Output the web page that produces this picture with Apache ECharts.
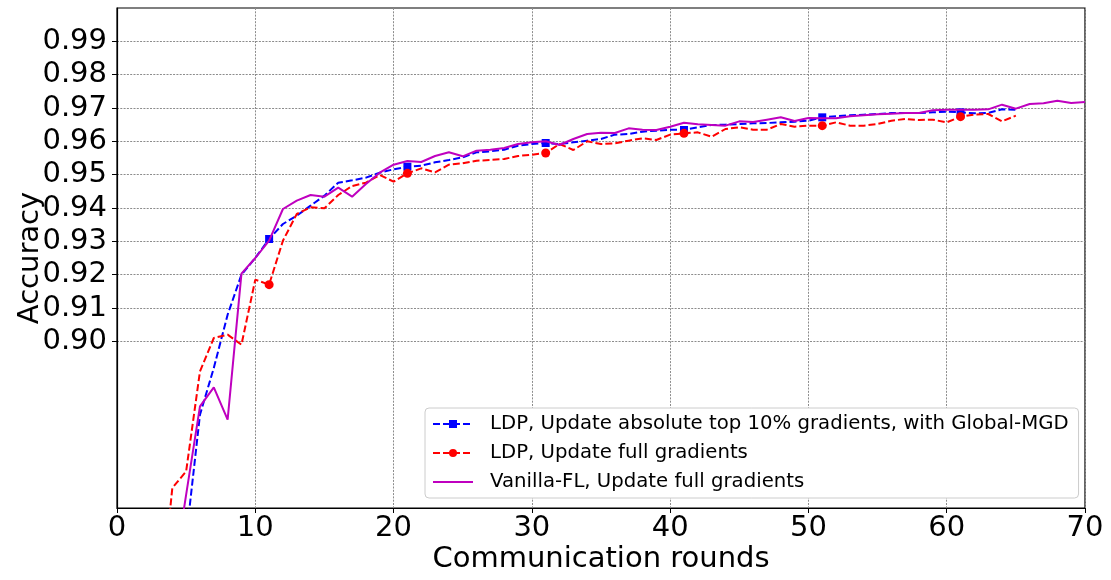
<!DOCTYPE html>
<html>
<head>
<meta charset="utf-8">
<script src="https://cdn.jsdelivr.net/npm/echarts@6/dist/echarts.min.js"></script>
<style>
  html, body { margin: 0; padding: 0; background: #fff; }
  #chart { width: 1111px; height: 580px; }
</style>
</head>
<body>
<div id="chart"></div>
<script>
// Test accuracy per communication round
const xTicks = [0, 10, 20, 30, 40, 50, 60, 70];
const yTicks = [0.90, 0.91, 0.92, 0.93, 0.94, 0.95, 0.96, 0.97, 0.98, 0.99];

const seriesNames = [
  'LDP, Update absolute top 10% gradients, with Global-MGD',
  'LDP, Update full gradients',
  'Vanilla-FL, Update full gradients'
];

// LDP + top-10% + Global-MGD, rounds 4..65
const topkFirstRound = 4;
const topkAcc = [
  0.800, 0.841, 0.878, 0.892, 0.908, 0.920, 0.925, 0.9307, 0.9352, 0.9377,
  0.9407, 0.9437, 0.9476, 0.9483, 0.9491, 0.9506, 0.9516, 0.9524, 0.9527, 0.9537,
  0.9544, 0.9552, 0.9567, 0.9570, 0.9575, 0.9587, 0.9592, 0.9595, 0.9592, 0.9597,
  0.9602, 0.9607, 0.9620, 0.9622, 0.9629, 0.9632, 0.9635, 0.9634, 0.9642, 0.9649,
  0.9650, 0.9652, 0.9654, 0.9655, 0.9657, 0.9659, 0.9662, 0.9672, 0.9675, 0.9678,
  0.9680, 0.9682, 0.9685, 0.9685, 0.9685, 0.9687, 0.9689, 0.9687, 0.9684, 0.9685,
  0.9696, 0.9695
];

// LDP, full gradients, rounds 3..65
const fullFirstRound = 3;
const fullAcc = [
  0.815, 0.856, 0.861, 0.891, 0.901, 0.902, 0.899, 0.9185, 0.9170, 0.9302,
  0.9382, 0.9402, 0.9399, 0.9439, 0.9466, 0.9476, 0.9499, 0.9479, 0.9504, 0.9519,
  0.9507, 0.9530, 0.9534, 0.9542, 0.9544, 0.9547, 0.9556, 0.9560, 0.9565, 0.9592,
  0.9574, 0.9600, 0.9592, 0.9594, 0.9602, 0.9609, 0.9604, 0.9620, 0.9624, 0.9627,
  0.9614, 0.9637, 0.9642, 0.9635, 0.9635, 0.9652, 0.9644, 0.9647, 0.9647, 0.9657,
  0.9647, 0.9647, 0.9652, 0.9662, 0.9667, 0.9664, 0.9665, 0.9657, 0.9674, 0.9680,
  0.9682, 0.9660, 0.9677
];

// Vanilla FL, rounds 4..70
const vanillaFirstRound = 4;
const vanillaAcc = [
  0.827, 0.854, 0.8805, 0.8862, 0.8765, 0.9203, 0.9250, 0.9302, 0.9397, 0.9422,
  0.9439, 0.9434, 0.9461, 0.9434, 0.9472, 0.9506, 0.9530, 0.9541, 0.9538, 0.9556,
  0.9567, 0.9555, 0.9572, 0.9575, 0.9580, 0.9592, 0.9597, 0.9600, 0.9589, 0.9607,
  0.9622, 0.9626, 0.9625, 0.9639, 0.9635, 0.9634, 0.9644, 0.9656, 0.9651, 0.9649,
  0.9647, 0.9660, 0.9658, 0.9665, 0.9672, 0.9661, 0.9670, 0.9669, 0.9669, 0.9675,
  0.9678, 0.9681, 0.9683, 0.9685, 0.9685, 0.9693, 0.9695, 0.9695, 0.9695, 0.9696,
  0.9710, 0.9698, 0.9712, 0.9714, 0.9722, 0.9715, 0.9718
];

// markers every 10 rounds, starting at round 1
const markEvery = 10;

function toPoints(firstRound, values, marked) {
  return values.map(function (v, i) {
    const r = firstRound + i;
    const item = { value: [r, v] };
    if (!marked || (r - 1) % markEvery !== 0) item.symbol = 'none';
    return item;
  });
}

const FONT = 'DejaVu Sans';
const gridColor = '#8c8c8c';

const chart = echarts.init(document.getElementById('chart'), null, { renderer: 'canvas' });

chart.setOption({
  animation: false,
  backgroundColor: '#ffffff',
  textStyle: { fontFamily: FONT },
  grid: {
    left: 117, right: 26, top: 8, bottom: 72,
    outerBoundsMode: 'none',
    containLabel: false,
    show: true, borderColor: '#000', borderWidth: 1.2, backgroundColor: 'transparent'
  },
  legend: {
    orient: 'vertical',
    left: 425, top: 408,
    width: 650,
    padding: [6, 10, 6, 7],
    backgroundColor: '#ffffff',
    borderColor: '#cccccc',
    borderWidth: 1,
    borderRadius: 4,
    itemWidth: 40,
    itemHeight: 10,
    itemGap: 9,
    textStyle: {
      fontFamily: FONT, fontSize: 19.7, color: '#000', lineHeight: 20,
      padding: [0, 0, 0, 12]
    },
    data: [
      { name: seriesNames[0] },
      { name: seriesNames[1] },
      { name: seriesNames[2], itemStyle: { opacity: 0 } }
    ],
    selectedMode: false
  },
  xAxis: {
    type: 'value',
    min: 0, max: 70, interval: 10,
    name: 'Communication rounds',
    nameLocation: 'middle',
    nameGap: 37,
    nameMoveOverlap: false,
    nameTextStyle: { fontFamily: FONT, fontSize: 29, color: '#000' },
    axisLine: { show: true, onZero: false, lineStyle: { color: '#000', width: 1.2 } },
    axisTick: { show: true, inside: false, length: 5, lineStyle: { color: '#000' }, customValues: xTicks },
    axisLabel: { fontFamily: FONT, fontSize: 29, color: '#000', margin: 6, customValues: xTicks },
    splitLine: { show: true, lineStyle: { color: gridColor, type: [2, 1.3], width: 1 } }
  },
  yAxis: {
    type: 'value',
    min: 0.85, max: 1.0, interval: 0.01,
    name: 'Accuracy',
    nameLocation: 'middle',
    nameGap: 72,
    nameRotate: 90,
    nameMoveOverlap: false,
    nameTextStyle: { fontFamily: FONT, fontSize: 29, color: '#000' },
    axisLine: { show: true, onZero: false, lineStyle: { color: '#000', width: 1.2 } },
    axisTick: { show: true, inside: false, length: 5, lineStyle: { color: '#000' }, customValues: yTicks },
    axisLabel: {
      fontFamily: FONT, fontSize: 29, color: '#000', margin: 10,
      customValues: yTicks,
      formatter: function (v) { return v.toFixed(2); }
    },
    splitLine: { show: true, lineStyle: { color: gridColor, type: [2, 1.3], width: 1 } }
  },
  series: [
    {
      name: seriesNames[0],
      type: 'line',
      data: toPoints(topkFirstRound, topkAcc, true),
      symbol: 'rect',
      symbolSize: 8,
      showAllSymbol: true,
      color: '#0000ff',
      lineStyle: { color: '#0000ff', width: 2, type: [7, 3] },
      itemStyle: { color: '#0000ff' },
      emphasis: { disabled: true },
      clip: true,
      z: 3
    },
    {
      name: seriesNames[1],
      type: 'line',
      data: toPoints(fullFirstRound, fullAcc, true),
      symbol: 'circle',
      symbolSize: 9,
      showAllSymbol: true,
      color: '#ff0000',
      lineStyle: { color: '#ff0000', width: 2, type: [7, 3] },
      itemStyle: { color: '#ff0000' },
      emphasis: { disabled: true },
      clip: true,
      z: 4
    },
    {
      name: seriesNames[2],
      type: 'line',
      data: toPoints(vanillaFirstRound, vanillaAcc, false),
      symbol: 'none',
      color: '#bf00bf',
      lineStyle: { color: '#bf00bf', width: 2 },
      emphasis: { disabled: true },
      clip: true,
      z: 5
    }
  ]
});
</script>
</body>
</html>
